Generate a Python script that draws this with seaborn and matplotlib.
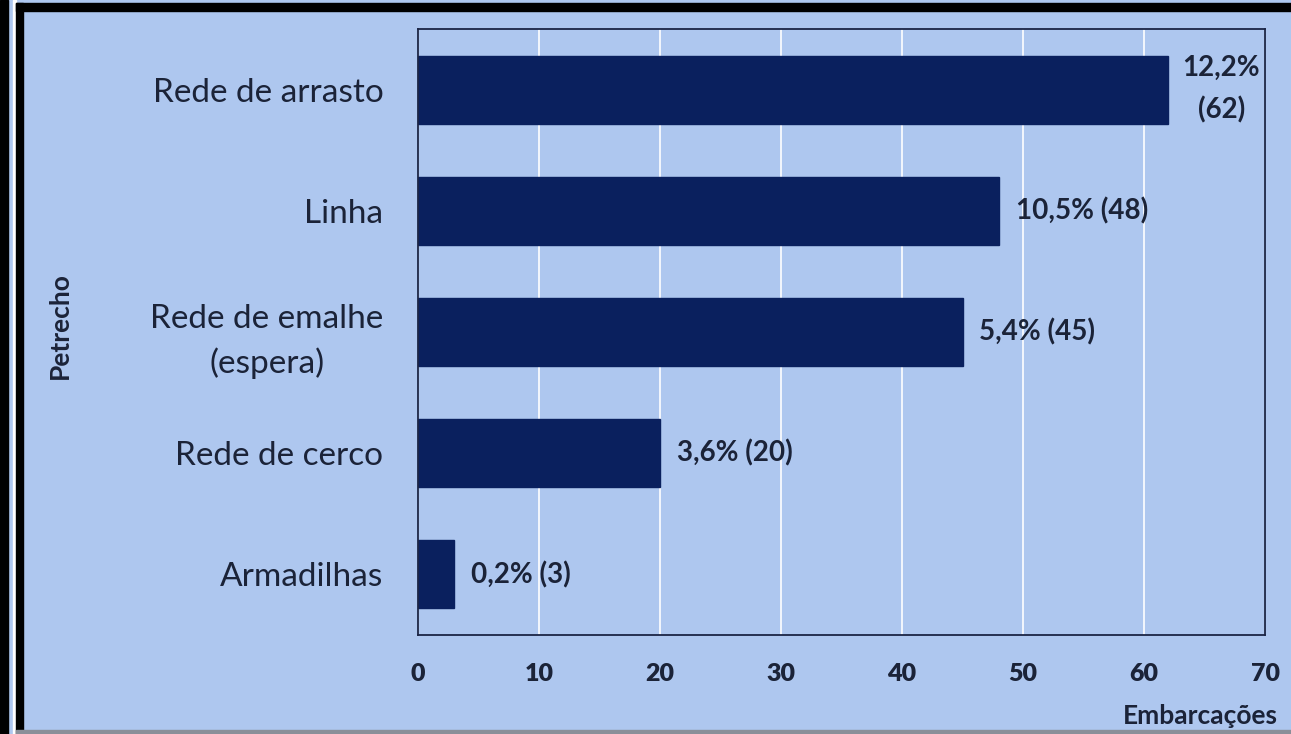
import matplotlib
matplotlib.use("Agg")
import matplotlib.pyplot as plt
from matplotlib.patches import Rectangle
import seaborn as sns
import pandas as pd

categories = ["Rede de arrasto", "Linha", "Rede de emalhe\n(espera)", "Rede de cerco", "Armadilhas"]
values = [62, 48, 45, 20, 3]
labels = ["12,2%\n(62)", "10,5% (48)", "5,4% (45)", "3,6% (20)", "0,2% (3)"]
xticks = [0, 10, 20, 30, 40, 50, 60, 70]

BG = "#AEC7EF"
BAR = "#0A205E"
TXT = "#1B2338"

sns.set_theme(style="white")
plt.rcParams["font.family"] = ["Lato", "DejaVu Sans"]

W, H = 1291, 734
fig = plt.figure(figsize=(W / 100, H / 100), dpi=100, facecolor=BG)

def px(x0, y0, x1, y1):
    return [x0 / W, 1 - y1 / H, (x1 - x0) / W, (y1 - y0) / H]

ax = fig.add_axes(px(418, 29, 1265, 635))
ax.set_facecolor(BG)

df = pd.DataFrame({"Petrecho": categories, "Embarcações": values})
sns.barplot(data=df, y="Petrecho", x="Embarcações", orient="h", color=BAR,
            saturation=1, width=0.56, ax=ax, edgecolor=BAR)

ax.set_xlim(0, 70)
ax.set_xticks(xticks)
ax.set_xticklabels([str(t) for t in xticks], fontsize=18, fontweight="heavy", color=TXT)
ax.tick_params(axis="x", length=0, pad=20)
ax.tick_params(axis="y", length=0, pad=25)
for t in ax.get_yticklabels():
    t.set_fontsize(24)
    t.set_color(TXT)
    t.set_horizontalalignment("right")
    t.set_multialignment("center")
    t.set_linespacing(1.5)
ax.grid(axis="x", color="white", linewidth=1.2)
ax.set_axisbelow(True)
for s in ax.spines.values():
    s.set_color("#1B2545")
    s.set_linewidth(1.3)
ax.set_xlabel("")
ax.set_ylabel("")

for i, (v, lab) in enumerate(zip(values, labels)):
    if "\n" in lab:
        ax.text(v + 4.4, i, lab, ha="center", va="center", fontsize=20,
                fontweight="bold", color=TXT, linespacing=1.7)
    else:
        ax.text(v + 1.4, i, lab, ha="left", va="center", fontsize=20,
                fontweight="bold", color=TXT)

fig.text(60 / W, 1 - 326 / H, "Petrecho", rotation=90, ha="center", va="center",
         fontsize=19, fontweight="bold", color=TXT)
fig.text(1278 / W, 1 - 716 / H, "Embarcações", ha="right", va="center",
         fontsize=19, fontweight="bold", color=TXT)

# frame decorations
for (x0, y0, x1, y1, c) in [
    (0, 0, 8, H, "black"),
    (13, 0, 16, H, "white"),
    (16, 3, 23, H, "black"),
    (16, 3, W, 11, "black"),
    (16, 730, W, H, "#8A8F99"),
]:
    fig.add_artist(Rectangle((x0 / W, 1 - y1 / H), (x1 - x0) / W, (y1 - y0) / H,
                             transform=fig.transFigure, color=c, zorder=0))

fig.savefig("out.png", dpi=100, facecolor=BG)
